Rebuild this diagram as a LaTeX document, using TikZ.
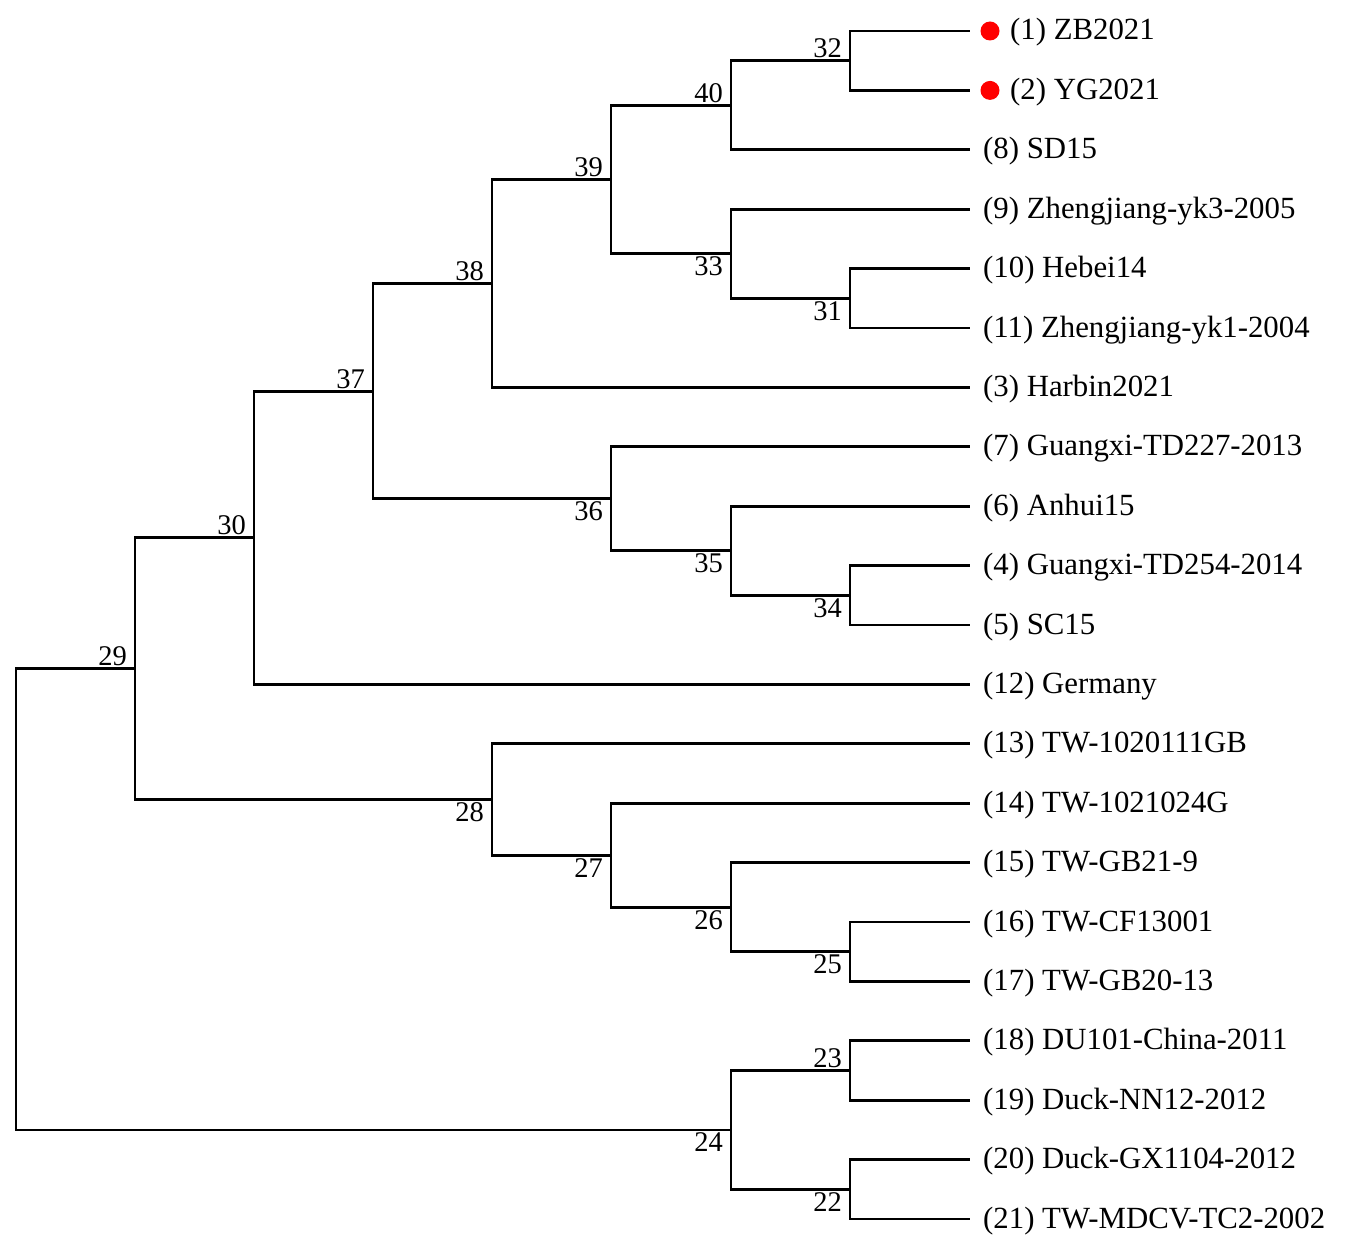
\documentclass[tikz,border=0pt]{standalone}
\usepackage{fontspec}
\setmainfont{Liberation Serif}

\begin{document}
\begin{tikzpicture}[x=1pt,y=-1pt,
  branch/.style={black, line width=2.8pt},
  leaf/.style={anchor=base west, inner sep=0pt, font=\fontsize{30.8}{36}\selectfont},
  dot/.style={circle, fill=red, inner sep=0pt, minimum size=19pt},
  lup/.style={anchor=base east, inner sep=0pt, xshift=-8pt, yshift=3pt, font=\fontsize{28.5}{34}\selectfont},
  ldown/.style={anchor=north east, inner sep=0pt, xshift=-8pt, yshift=-3pt, font=\fontsize{28.5}{34}\selectfont}]
\useasboundingbox (0,0) rectangle (1360,1252);

\foreach \lab [count=\i] in {{(1) ZB2021},{(2) YG2021},{(8) SD15},{(9) Zhengjiang-yk3-2005},
  {(10) Hebei14},{(11) Zhengjiang-yk1-2004},{(3) Harbin2021},{(7) Guangxi-TD227-2013},
  {(6) Anhui15},{(4) Guangxi-TD254-2014},{(5) SC15},{(12) Germany},{(13) TW-1020111GB},
  {(14) TW-1021024G},{(15) TW-GB21-9},{(16) TW-CF13001},{(17) TW-GB20-13},
  {(18) DU101-China-2011},{(19) Duck-NN12-2012},{(20) Duck-GX1104-2012},{(21) TW-MDCV-TC2-2002}}
{
  \ifnum\i<3 \def\tx{1010}\else\def\tx{983}\fi
  \coordinate (L\i) at (970,{31+59.4*(\i-1)});
  \node[leaf] (t\i) at (\tx,{40+59.4*(\i-1)}) {\lab};
}
\node[dot] (d1) at (990,31) {};
\node[dot] (d2) at (990,90.4) {};

\coordinate (n32) at (850,60.7);
\coordinate (n40) at (731,105.3);
\coordinate (n31) at (850,298.3);
\coordinate (n33) at (731,253.8);
\coordinate (n39) at (611,179.5);
\coordinate (n38) at (492,283.5);
\coordinate (n34) at (850,595.3);
\coordinate (n35) at (731,550.8);
\coordinate (n36) at (611,498.8);
\coordinate (n37) at (373,391.1);
\coordinate (n30) at (254,537.8);
\coordinate (n25) at (850,951.7);
\coordinate (n26) at (731,907.2);
\coordinate (n27) at (611,855.2);
\coordinate (n28) at (492,799.5);
\coordinate (n29) at (135,668.6);
\coordinate (n23) at (850,1070.5);
\coordinate (n22) at (850,1189.3);
\coordinate (n24) at (731,1129.9);
\coordinate (root) at (16,899.3);

\foreach \p/\c in {n32/L1,n32/L2,n40/n32,n40/L3,n31/L5,n31/L6,n33/L4,n33/n31,
  n39/n40,n39/n33,n38/n39,n38/L7,n34/L10,n34/L11,n35/L9,n35/n34,n36/L8,n36/n35,
  n37/n38,n37/n36,n30/n37,n30/L12,n25/L16,n25/L17,n26/L15,n26/n25,n27/L14,n27/n26,
  n28/L13,n28/n27,n29/n30,n29/n28,n23/L18,n23/L19,n22/L20,n22/L21,n24/n23,n24/n22,
  root/n29,root/n24}
  \draw[branch] (\p) |- (\c);

\foreach \n/\s in {29/lup,24/ldown,30/lup,28/ldown,37/lup,38/lup,36/ldown,39/lup,40/lup,
  33/ldown,32/lup,31/ldown,35/ldown,34/ldown,27/ldown,26/ldown,25/ldown,23/lup,22/ldown}
  \node[\s] (l\n) at (n\n) {\n};

\end{tikzpicture}
\end{document}
